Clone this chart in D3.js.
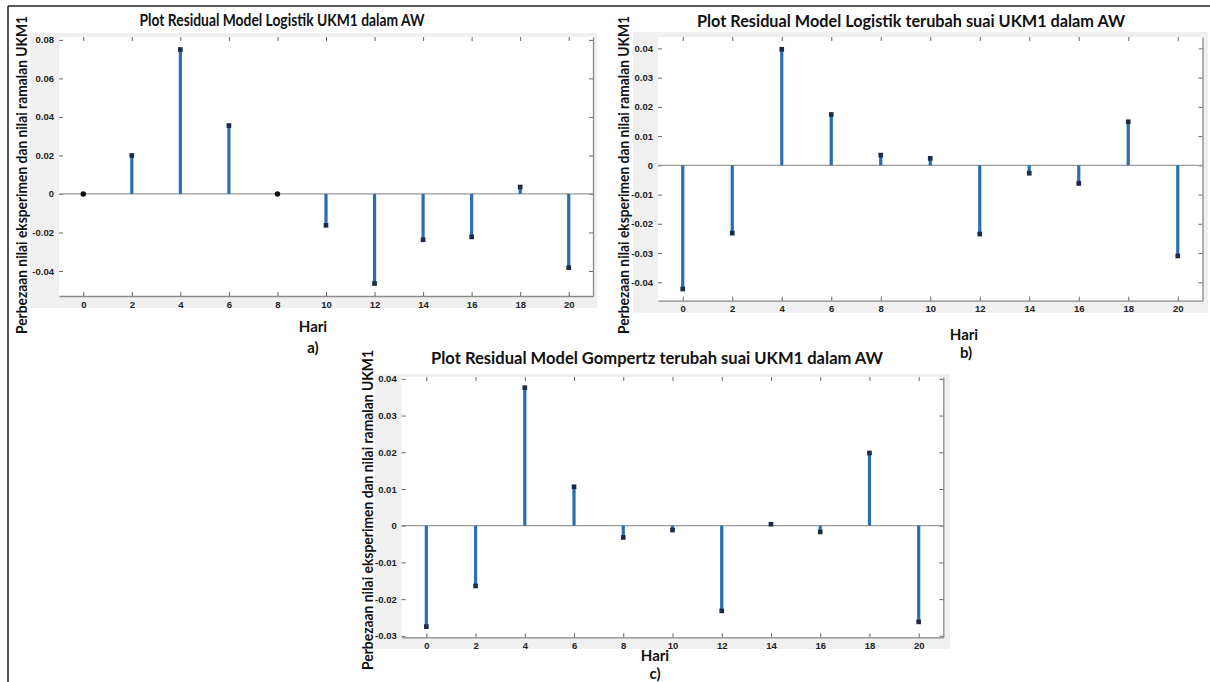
<!DOCTYPE html>
<html>
<head>
<meta charset="utf-8">
<script src="https://cdn.jsdelivr.net/npm/d3@7"></script>
<style>
	body { margin: 0; background: #fff; }
	svg { display: block; }
</style>
</head>
<body>
<svg id="viz" width="1210" height="682"></svg>
<script>
// hari (x) and residual values
var hari = [0, 2, 4, 6, 8, 10, 12, 14, 16, 18, 20];
var residA = [0, 0.02, 0.075, 0.0355, 0, -0.0163, -0.0465, -0.0238, -0.0223, 0.0036, -0.0383];
var residB = [-0.0423, -0.0232, 0.0397, 0.0174, 0.0035, 0.0024, -0.0235, -0.0027, -0.0062, 0.0149, -0.031];
var residC = [-0.0275, -0.0164, 0.0376, 0.0106, -0.0032, -0.0012, -0.0232, 0.0004, -0.0017, 0.0198, -0.0262];

var yTicksA = [-0.04, -0.02, 0, 0.02, 0.04, 0.06, 0.08];
var yTicksB = [-0.04, -0.03, -0.02, -0.01, 0, 0.01, 0.02, 0.03, 0.04];
var yTicksC = [-0.03, -0.02, -0.01, 0, 0.01, 0.02, 0.03, 0.04];

var titles = [
	"Plot Residual Model Logistik UKM1 dalam AW",
	"Plot Residual Model Logistik terubah suai UKM1 dalam AW",
	"Plot Residual Model Gompertz terubah suai UKM1 dalam AW"
];
var yLabel = "Perbezaan nilai eksperimen dan nilai ramalan UKM1";
var xLabel = "Hari";
var panelTags = ["a)", "b)", "c)"];

var svg = d3.select("#viz");

// frame round the whole figure (top and left edges only are visible)
svg.append("line").attr("x1", 8).attr("x2", 1210).attr("y1", 6).attr("y2", 6)
	.attr("stroke", "#222").attr("stroke-width", 1.5);
svg.append("line").attr("x1", 8).attr("x2", 8).attr("y1", 6).attr("y2", 682)
	.attr("stroke", "#222").attr("stroke-width", 1.5);

function drawPanel(p) {
	var g = svg.append("g").attr("class", "panel");

	g.append("rect")
		.attr("x", p.bg[0]).attr("y", p.bg[1])
		.attr("width", p.bg[2] - p.bg[0]).attr("height", p.bg[3] - p.bg[1])
		.attr("fill", "#f0f0f0");
	g.append("rect")
		.attr("x", p.left).attr("y", p.top)
		.attr("width", p.right - p.left).attr("height", p.bottom - p.top)
		.attr("fill", "#fff");

	var x = d3.scaleLinear().domain([-1, 21]).range([p.left, p.right]);
	var y = d3.scaleLinear().domain(p.yDomain).range([p.bottom, p.top]);

	var fmt = function (d) { return String(d); };

	var xAxis = g.append("g")
		.attr("transform", "translate(0," + p.bottom + ")")
		.call(d3.axisBottom(x).tickValues(hari).tickSize(-4).tickSizeOuter(0).tickPadding(5).tickFormat(fmt));
	var topAxis = g.append("g")
		.attr("transform", "translate(0," + p.top + ")")
		.call(d3.axisTop(x).tickValues(hari).tickSize(-4).tickSizeOuter(0).tickFormat(""));
	var yAxis = g.append("g")
		.attr("transform", "translate(" + p.left + ",0)")
		.call(d3.axisLeft(y).tickValues(p.yTicks).tickSize(-4).tickSizeOuter(0).tickPadding(5).tickFormat(fmt));
	var rightAxis = g.append("g")
		.attr("transform", "translate(" + p.right + ",0)")
		.call(d3.axisRight(y).tickValues(p.yTicks).tickSize(-4).tickSizeOuter(0).tickFormat(""));

	[xAxis, topAxis, yAxis, rightAxis].forEach(function (a) {
		a.selectAll(".tick line").attr("stroke", "#666");
		a.selectAll(".tick text")
			.attr("fill", "#222")
			.style("font-family", "'Liberation Sans', Arial, sans-serif")
			.style("font-size", "9.5px")
			.style("font-weight", "bold");
		a.select(".domain").attr("stroke", "#8a8a8a").attr("stroke-width", 1.3);
	});
	topAxis.select(".domain").remove();
	yAxis.select(".domain").remove();

	// zero baseline
	g.append("line")
		.attr("x1", p.left).attr("x2", p.right)
		.attr("y1", y(0)).attr("y2", y(0))
		.attr("stroke", "#9a9a9a").attr("stroke-width", 1.3);

	var pts = hari.map(function (h, i) { return { h: h, v: p.values[i] }; });

	g.selectAll("line.stem").data(pts).join("line")
		.attr("class", "stem")
		.attr("x1", function (d) { return x(d.h); })
		.attr("x2", function (d) { return x(d.h); })
		.attr("y1", y(0))
		.attr("y2", function (d) { return y(d.v); })
		.attr("stroke", "#2b6eb0")
		.attr("stroke-width", 3.2);

	g.selectAll("path.mark").data(pts).join("path")
		.attr("class", "mark")
		.attr("transform", function (d) { return "translate(" + x(d.h) + "," + y(d.v) + ")"; })
		.attr("d", function (d) {
			return d.v === 0 ? d3.symbol(d3.symbolCircle, 24)() : d3.symbol(d3.symbolSquare, 22)();
		})
		.attr("fill", function (d) { return d.v === 0 ? "#111" : "#1c2c48"; });

	// title
	g.append("text")
		.attr("x", p.title[0]).attr("y", p.title[1])
		.attr("text-anchor", "middle")
		.attr("textLength", p.title[2]).attr("lengthAdjust", "spacingAndGlyphs")
		.style("font-family", "Lato, 'Open Sans', sans-serif")
		.style("font-size", "17px").style("font-weight", "bold")
		.attr("fill", "#111")
		.text(p.titleText);

	// y label
	g.append("text")
		.attr("transform", "translate(" + p.ylab[0] + "," + p.ylab[1] + ") rotate(-90)")
		.attr("text-anchor", "middle")
		.attr("textLength", p.ylab[2]).attr("lengthAdjust", "spacingAndGlyphs")
		.style("font-family", "Lato, 'Open Sans', sans-serif")
		.style("font-size", "15.5px").style("font-weight", "bold")
		.attr("fill", "#111")
		.text(yLabel);

	// x label and panel tag
	g.append("text")
		.attr("x", p.xlab[0]).attr("y", p.xlab[1])
		.attr("text-anchor", "middle")
		.style("font-family", "Lato, 'Open Sans', sans-serif")
		.style("font-size", "15px").style("font-weight", "bold")
		.attr("fill", "#111")
		.text(xLabel);
	g.append("text")
		.attr("x", p.tag[0]).attr("y", p.tag[1])
		.attr("text-anchor", "middle")
		.style("font-family", "Lato, 'Open Sans', sans-serif")
		.style("font-size", "15px").style("font-weight", "bold")
		.attr("fill", "#111")
		.text(p.tagText);
}

drawPanel({
	bg: [30, 33, 597, 308], left: 59, right: 593, top: 37, bottom: 296,
	yDomain: [-0.053, 0.0815], yTicks: yTicksA, values: residA,
	title: [282, 26, 285], titleText: titles[0],
	ylab: [27, 175, 318], xlab: [313, 332], tag: [313, 353], tagText: panelTags[0]
});
drawPanel({
	bg: [633, 32, 1208, 313], left: 658, right: 1202.5, top: 37, bottom: 300.7,
	yDomain: [-0.0463, 0.0439], yTicks: yTicksB, values: residB,
	title: [911, 27, 428], titleText: titles[1],
	ylab: [629, 175, 318], xlab: [964, 340], tag: [966, 358], tagText: panelTags[1]
});
drawPanel({
	bg: [375, 374, 950, 649], left: 401.7, right: 943.3, top: 377, bottom: 637.3,
	yDomain: [-0.0304, 0.0405], yTicks: yTicksC, values: residC,
	title: [657, 364, 452], titleText: titles[2],
	ylab: [373, 510, 320], xlab: [655, 661], tag: [655, 679], tagText: panelTags[2]
});
</script>
</body>
</html>
